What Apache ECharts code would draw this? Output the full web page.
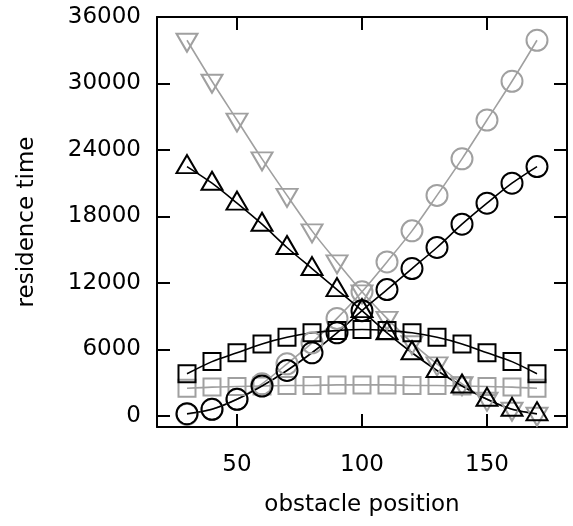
<!DOCTYPE html>
<html>
<head>
<meta charset="utf-8">
<script src="https://cdn.jsdelivr.net/npm/echarts@6/dist/echarts.min.js"></script>
<style>html,body{margin:0;padding:0;background:#fff}#c{width:573px;height:526px}</style>
</head>
<body>
<div id="c"></div>
<script>
var positions = [30, 40, 50, 60, 70, 80, 90, 100, 110, 120, 130, 140, 150, 160, 170];
var grayDown    = [33900, 30200, 26700, 23200, 19900, 16700, 13900, 11200, 8800, 6600, 4700, 2900, 1500, 600, 150];
var grayCircle  = [150, 600, 1500, 2900, 4700, 6600, 8800, 11200, 13900, 16700, 19900, 23200, 26700, 30200, 33900];
var graySquare  = [2500, 2600, 2650, 2700, 2750, 2750, 2800, 2800, 2800, 2750, 2750, 2700, 2650, 2600, 2500];
var blackUp     = [22500, 21000, 19200, 17300, 15200, 13300, 11400, 9500, 7500, 5700, 4100, 2700, 1500, 600, 200];
var blackCircle = [200, 600, 1500, 2700, 4100, 5700, 7500, 9500, 11400, 13300, 15200, 17300, 19200, 21000, 22500];
var blackSquare = [3800, 4900, 5700, 6500, 7100, 7500, 7700, 7800, 7700, 7500, 7100, 6500, 5700, 4900, 3800];
var xTicks = [50, 100, 150];
var yTicks = [0, 6000, 12000, 18000, 24000, 30000, 36000];

var GRAY = '#a0a0a0', BLACK = '#000000';
var FONT = 'DejaVu Sans';
var FS = 23;

function pairs(vals) { return positions.map(function (x, i) { return [x, vals[i]]; }); }
function mk(name, vals, color, symbol, size, rotate, offset) {
  return {
    name: name, type: 'line', data: pairs(vals), smooth: 0.3,
    symbol: symbol, symbolSize: size, symbolRotate: rotate || 0,
    symbolOffset: offset || [0, 0], showAllSymbol: true,
    lineStyle: { color: color, width: 1.6 },
    itemStyle: { color: 'rgba(0,0,0,0)', borderColor: color, borderWidth: 2 },
    emphasis: { disabled: true }, animation: false
  };
}

var axisCommon = {
  axisLine: { show: true, onZero: false, lineStyle: { color: '#000', width: 2 } },
  axisTick: { show: true, inside: true, length: 13, lineStyle: { color: '#000', width: 2 } },
  splitLine: { show: false }
};
function plain(v) { return String(v); }

var chart = echarts.init(document.getElementById('c'), null, { renderer: 'canvas' });
chart.setOption({
  backgroundColor: '#fff',
  animation: false,
  grid: { left: 157, right: 6, top: 17, bottom: 99, containLabel: false },
  xAxis: [
    Object.assign({}, axisCommon, {
      type: 'value', min: 18, max: 182, position: 'bottom',
      axisTick: Object.assign({}, axisCommon.axisTick, { customValues: xTicks }),
      axisLabel: { customValues: xTicks, formatter: plain, margin: 27, fontFamily: FONT, fontSize: FS, color: '#000' },
      name: 'obstacle position', nameLocation: 'middle', nameGap: 67,
      nameTextStyle: { fontFamily: FONT, fontSize: FS, color: '#000' }
    }),
    Object.assign({}, axisCommon, {
      type: 'value', min: 18, max: 182, position: 'top',
      axisTick: Object.assign({}, axisCommon.axisTick, { customValues: xTicks }),
      axisLabel: { show: false }
    })
  ],
  yAxis: [
    Object.assign({}, axisCommon, {
      type: 'value', min: -1000, max: 36000, position: 'left',
      axisTick: Object.assign({}, axisCommon.axisTick, { customValues: yTicks }),
      axisLabel: { customValues: yTicks, formatter: plain, margin: 16, fontFamily: FONT, fontSize: FS, color: '#000' },
      name: 'residence time', nameLocation: 'middle', nameGap: 118,
      nameTextStyle: { fontFamily: FONT, fontSize: FS, color: '#000' }
    }),
    Object.assign({}, axisCommon, {
      type: 'value', min: -1000, max: 36000, position: 'right',
      axisTick: Object.assign({}, axisCommon.axisTick, { customValues: yTicks }),
      axisLabel: { show: false }
    })
  ],
  series: [
    mk('gray down', grayDown, GRAY, 'triangle', [21, 18], 180, [0, 2.5]),
    mk('gray circle', grayCircle, GRAY, 'circle', 21),
    mk('gray square', graySquare, GRAY, 'rect', 17),
    mk('black up', blackUp, BLACK, 'triangle', [21, 18], 0, [0, -2.5]),
    mk('black circle', blackCircle, BLACK, 'circle', 21),
    mk('black square', blackSquare, BLACK, 'rect', 17)
  ]
});
</script>
</body>
</html>
